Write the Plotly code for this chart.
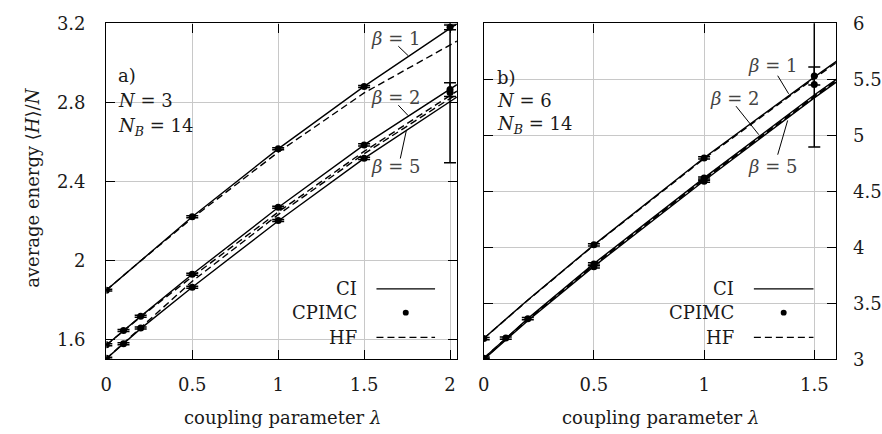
import plotly.graph_objects as go

# ---------------- data: panel a) N=3 ----------------
lam_a = [0, 0.1, 0.2, 0.5, 1.0, 1.5, 2.0, 2.04]
ci_a_b1 = [1.85, 1.925, 2.0, 2.221, 2.565, 2.881, 3.175, 3.197]
ci_a_b2 = [1.572, 1.645, 1.717, 1.93, 2.268, 2.585, 2.868, 2.89]
ci_a_b5 = [1.503, 1.578, 1.655, 1.865, 2.20, 2.517, 2.805, 2.827]
hf_a_b1 = [1.85, 1.924, 1.998, 2.214, 2.548, 2.848, 3.09, 3.11]
hf_a_b2 = [1.572, 1.644, 1.715, 1.918, 2.245, 2.552, 2.835, 2.857]
hf_a_b5 = [1.503, 1.58, 1.66, 1.895, 2.232, 2.54, 2.82, 2.842]

cp_a_b1_x = [0, 0.5, 1, 1.5, 2]
cp_a_b1_y = [1.85, 2.221, 2.565, 2.881, 3.18]
cp_a_b1_e = [0.005, 0.005, 0.005, 0.005, 0.012]
cp_a_b2_x = [0, 0.1, 0.2, 0.5, 1, 1.5, 2]
cp_a_b2_y = [1.574, 1.646, 1.718, 1.93, 2.269, 2.585, 2.865]
cp_a_b2_e = [0.005, 0.005, 0.005, 0.005, 0.005, 0.006, 0.035]
cp_a_b5_x = [0, 0.1, 0.2, 0.5, 1, 1.5, 2]
cp_a_b5_y = [1.505, 1.579, 1.658, 1.865, 2.202, 2.517, 2.85]
cp_a_b5_e = [0.005, 0.005, 0.005, 0.005, 0.005, 0.006, 0.355]

# ---------------- data: panel b) N=6 ----------------
lam_b = [0, 0.1, 0.2, 0.5, 1.0, 1.5, 1.6]
ci_b_b1 = [3.185, 3.36, 3.53, 4.022, 4.80, 5.52, 5.66]
ci_b_b2 = [3.01, 3.19, 3.363, 3.855, 4.62, 5.36, 5.50]
ci_b_b5 = [2.998, 3.175, 3.345, 3.83, 4.595, 5.335, 5.475]
hf_b_b1 = [3.185, 3.358, 3.527, 4.018, 4.792, 5.51, 5.648]
hf_b_b2 = [3.01, 3.186, 3.358, 3.846, 4.61, 5.35, 5.49]
hf_b_b5 = [2.998, 3.18, 3.352, 3.84, 4.606, 5.347, 5.487]

cp_b_b1_x = [0, 0.5, 1, 1.5]
cp_b_b1_y = [3.185, 4.022, 4.798, 5.53]
cp_b_b1_e = [0.01, 0.01, 0.01, 0.08]
cp_b_b2_x = [0, 0.1, 0.2, 0.5, 1]
cp_b_b2_y = [3.01, 3.19, 3.363, 3.852, 4.619]
cp_b_b2_e = [0.01, 0.01, 0.01, 0.01, 0.01]
cp_b_b5_x = [0, 0.5, 1, 1.5]
cp_b_b5_y = [3.0, 3.826, 4.59, 5.455]
cp_b_b5_e = [0.01, 0.01, 0.01, 0.56]

xticks_a = [0, 0.5, 1, 1.5, 2]
xticks_b = [0, 0.5, 1, 1.5]
yticks_a = [1.6, 2, 2.4, 2.8, 3.2]
yticks_b = [3, 3.5, 4, 4.5, 5, 5.5, 6]

W, H = 882, 434
FONT = "DejaVu Serif"
FS = 18
TC = "#1a1a1a"


def px(x):
    return x / W


def py(y):
    return 1 - y / H


fig = go.Figure()


def add_lines(lam, ys, xa, ya, dash):
    for y in ys:
        fig.add_trace(go.Scatter(x=lam, y=y, mode="lines", xaxis=xa, yaxis=ya,
                                 line=dict(color="black", width=1.4, dash=dash),
                                 showlegend=False, hoverinfo="skip"))


def add_points(xs, ys, es, xa, ya):
    fig.add_trace(go.Scatter(x=xs, y=ys, mode="markers", xaxis=xa, yaxis=ya,
                             marker=dict(color="black", size=7),
                             error_y=dict(type="data", array=es, color="black",
                                          thickness=1.5, width=6),
                             showlegend=False, hoverinfo="skip"))


add_lines(lam_a, [hf_a_b1, hf_a_b2, hf_a_b5], "x", "y", "7px,4px")
add_lines(lam_a, [ci_a_b1, ci_a_b2, ci_a_b5], "x", "y", "solid")
add_points(cp_a_b1_x, cp_a_b1_y, cp_a_b1_e, "x", "y")
add_points(cp_a_b2_x, cp_a_b2_y, cp_a_b2_e, "x", "y")
add_points(cp_a_b5_x, cp_a_b5_y, cp_a_b5_e, "x", "y")

add_lines(lam_b, [hf_b_b1, hf_b_b2, hf_b_b5], "x2", "y2", "7px,4px")
add_lines(lam_b, [ci_b_b1, ci_b_b2, ci_b_b5], "x2", "y2", "solid")
add_points(cp_b_b1_x, cp_b_b1_y, cp_b_b1_e, "x2", "y2")
add_points(cp_b_b2_x, cp_b_b2_y, cp_b_b2_e, "x2", "y2")
add_points(cp_b_b5_x, cp_b_b5_y, cp_b_b5_e, "x2", "y2")

axis_common = dict(showline=True, linecolor="black", linewidth=1.3, mirror="ticks",
                   ticks="inside", ticklen=9, tickwidth=1.3, tickcolor="black",
                   showgrid=True, gridcolor="#c8c8c8", gridwidth=1, zeroline=False,
                   tickfont=dict(family=FONT, size=FS, color=TC))

ydom = [py(366), py(13)]
fig.update_layout(
    width=W, height=H, margin=dict(l=0, r=0, t=0, b=0),
    paper_bgcolor="white", plot_bgcolor="white", showlegend=False,
    xaxis=dict(domain=[px(101), px(454)], range=[0, 2.04], anchor="y",
               tickvals=xticks_a, ticktext=[f"{v:g}" for v in xticks_a],
               ticklabelstandoff=9, **axis_common),
    yaxis=dict(domain=ydom, range=[1.5, 3.2], anchor="x",
               tickvals=yticks_a, ticktext=[f"{v:g}" for v in yticks_a],
               ticklabelstandoff=16, **axis_common),
    xaxis2=dict(domain=[px(481), px(836)], range=[0, 1.6], anchor="y2",
                tickvals=xticks_b, ticktext=[f"{v:g}" for v in xticks_b],
                ticklabelstandoff=9, **axis_common),
    yaxis2=dict(domain=ydom, range=[3, 6], anchor="x2", side="right",
                tickvals=yticks_b, ticktext=[f"{v:g}" for v in yticks_b],
                ticklabelstandoff=12, **axis_common),
)

ann = []
shapes = []


def text(x, y, s, anchor="left", color=TC, size=FS, angle=0):
    ann.append(dict(x=px(x), y=py(y), xref="paper", yref="paper", text=s,
                    showarrow=False, xanchor=anchor, yanchor="middle", textangle=angle,
                    font=dict(family=FONT, size=size, color=color)))


def seg(x0, y0, x1, y1, dash="solid", width=1.0, layer="above"):
    shapes.append(dict(type="line", xref="paper", yref="paper",
                       x0=px(x0), y0=py(y0), x1=px(x1), y1=py(y1), layer=layer,
                       line=dict(color="black", width=width, dash=dash)))


def box(x0, y0, x1, y1):
    shapes.append(dict(type="rect", xref="paper", yref="paper",
                       x0=px(x0), y0=py(y0), x1=px(x1), y1=py(y1), layer="between",
                       line=dict(width=0), fillcolor="white"))


# axis titles
text(26, 185, "average energy ⟨<i>H</i>⟩/<i>N</i>", anchor="center", angle=-90)
text(278, 427, "coupling parameter <i>λ</i>", anchor="center")
text(659, 427, "coupling parameter <i>λ</i>", anchor="center")

# panel labels
text(111, 68, "a)")
text(111, 94, "<i>N</i> = 3")
text(111, 122, "<i>N</i><sub><i>B</i></sub> = 14")
text(492, 70, "b)")
text(492, 94, "<i>N</i> = 6")
text(492, 120, "<i>N</i><sub><i>B</i></sub> = 14")

# beta labels + leaders
BC = "#444444"
text(392, 29, "<i>β</i> = 1", anchor="center", color=BC)
text(392, 91, "<i>β</i> = 2", anchor="center", color=BC)
text(392, 163, "<i>β</i> = 5", anchor="center", color=BC)
seg(395, 37, 405, 47)
seg(395, 99, 405, 110)
seg(397, 155, 403, 126)

text(772, 57, "<i>β</i> = 1", anchor="center", color=BC)
text(733, 92, "<i>β</i> = 2", anchor="center", color=BC)
text(772, 163, "<i>β</i> = 5", anchor="center", color=BC)
seg(777, 68, 788, 87)
seg(735, 100, 758, 130)
seg(777, 151, 787, 115)

# legends
for (x_txt, x0, x1, bx0, bx1) in [(355, 373, 432, 357, 452), (735, 753, 813, 748, 834)]:
    box(bx0, 279, bx1, 355)
    text(x_txt, 292, "CI", anchor="right")
    text(x_txt, 317, "CPIMC", anchor="right")
    text(x_txt, 343, "HF", anchor="right")
    seg(x0, 292, x1, 292, width=1.4)
    seg(x0, 343, x1, 343, dash="7px,4px", width=1.4)
    cx = (x0 + x1) / 2
    shapes.append(dict(type="circle", xref="paper", yref="paper",
                       x0=px(cx - 3), x1=px(cx + 3), y0=py(317 - 3), y1=py(317 + 3),
                       fillcolor="black", line=dict(width=0)))

fig.update_layout(annotations=ann, shapes=shapes)
fig.write_html("out.html")
